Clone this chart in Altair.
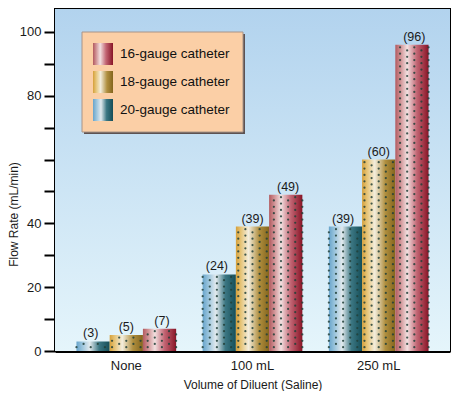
import altair as alt
import pandas as pd

# ---- data ----
diluent = ["None", "100 mL", "250 mL"]
series_names = ["20-gauge catheter", "18-gauge catheter", "16-gauge catheter"]
flow_20 = [3, 24, 39]
flow_18 = [5, 39, 60]
flow_16 = [7, 49, 96]
legend_order = ["16-gauge catheter", "18-gauge catheter", "20-gauge catheter"]

rows = []
for name, vals in zip(series_names, [flow_20, flow_18, flow_16]):
    for d, v in zip(diluent, vals):
        rows.append({"diluent": d, "series": name, "flow": v, "label": f"({v})"})
df = pd.DataFrame(rows)

FONT = "Liberation Sans"
W, H = 395, 342
N_COLS = 5  # texture columns per bar
dot_keys = [f"{s}|{c}" for s in series_names for c in range(N_COLS)]


def hgrad(stops):
    return alt.Gradient(gradient="linear", x1=0, y1=0, x2=1, y2=0,
                        stops=[alt.GradientStop(offset=o, color=c) for o, c in stops])


grads = {
    "20-gauge catheter": hgrad([(0, "#68a4cb"), (0.15, "#93c0da"), (0.4, "#e2eaee"),
                                (0.68, "#3c7783"), (1, "#154e58")]),
    "18-gauge catheter": hgrad([(0, "#d6a03a"), (0.15, "#e6c477"), (0.38, "#f3eddc"),
                                (0.7, "#b08f3f"), (1, "#84651d")]),
    "16-gauge catheter": hgrad([(0, "#b25a5f"), (0.15, "#cf8f92"), (0.36, "#f2e0e0"),
                                (0.65, "#c26573"), (1, "#881426")]),
}

bg_grad = alt.Gradient(gradient="linear", x1=0, y1=0, x2=0, y2=1,
                       stops=[alt.GradientStop(offset=0, color="#b2d3ee"),
                              alt.GradientStop(offset=1, color="#e5f5fb")])

x_enc = alt.X("diluent:N", sort=diluent,
              scale=alt.Scale(domain=diluent, paddingInner=0.21, paddingOuter=0.17),
              axis=alt.Axis(title="Volume of Diluent (Saline)", labelAngle=0, ticks=False,
                            tickSize=0, domainColor="black", domainWidth=3,
                            labelFontSize=13, labelColor="#1a1a1a", labelPadding=8,
                            labelFont=FONT, titleFont=FONT, titleFontSize=12,
                            titleFontWeight="normal", titleColor="#1a1a1a",
                            titlePadding=7, grid=False))
xoff = alt.XOffset("series:N", sort=series_names,
                   scale=alt.Scale(domain=series_names, paddingInner=0, paddingOuter=0))
xoff_keys = alt.XOffset("key:N", sort=dot_keys,
                        scale=alt.Scale(domain=dot_keys, paddingInner=0, paddingOuter=0))
y_axis = alt.Axis(title="Flow Rate (mL/min)", values=list(range(0, 101, 10)),
                  labelExpr="(datum.value % 20 == 0 && datum.value != 60) ? datum.label : ''",
                  grid=False, domainColor="black", domainWidth=2,
                  tickColor="black", tickWidth=2, tickSize=11,
                  labelPadding=3, labelFontSize=13, labelColor="#1a1a1a",
                  labelFont=FONT, titleFont=FONT, titleFontSize=12,
                  titleFontWeight="normal", titleColor="#1a1a1a",
                  titleX=-35, titleY=205, titleAngle=-90,
                  titleAlign="center", titleBaseline="bottom")
y_scale = alt.Scale(domain=[0, 107.2], nice=False, zero=True)
y_enc = alt.Y("flow:Q", scale=y_scale, axis=y_axis)

background = alt.Chart(alt.InlineData(values=[{"k": 1}])).mark_rect(fill=bg_grad).encode(
    x=alt.value(0), x2=alt.value("width"), y=alt.value(0), y2=alt.value("height"))

base = alt.Chart(df).encode(x=x_enc, xOffset=xoff, y=y_enc)

bar_layers = [
    base.transform_filter(alt.datum.series == name).mark_bar(fill=grads[name])
    for name in series_names
]

# dotted texture on the bars: staggered small dots, 5 columns per bar
dots = alt.Chart(df).transform_calculate(
    col=f"sequence(0, {N_COLS})"
).transform_flatten(["col"]).transform_calculate(
    key="datum.series + '|' + datum.col",
    dots="sequence(datum.col % 2 == 0 ? 1.2 : 2.2, datum.flow - 0.5, 2)"
).transform_flatten(["dots"]).mark_point(
    filled=True, size=5, color="#213f38", opacity=0.85
).encode(
    x=x_enc,
    xOffset=xoff_keys,
    y=alt.Y("dots:Q", scale=y_scale, axis=y_axis),
)

# value labels, centred on the middle texture column of each bar
labels = alt.Chart(df).transform_calculate(
    key=f"datum.series + '|{N_COLS // 2}'"
).mark_text(dy=-8, fontSize=12.5, font=FONT, color="#1a1a1a").encode(
    x=x_enc, xOffset=xoff_keys, y=y_enc, text="label:N")

# ---- legend box (drawn by hand so the swatches keep their gradients) ----
one = alt.InlineData(values=[{"k": 1}])
box_x, box_y, box_w, box_h = 27, 23, 161, 100
shadow = alt.Chart(one).mark_rect(fill="#5d5252").encode(
    x=alt.value(box_x + 2), x2=alt.value(box_x + box_w + 2),
    y=alt.value(box_y + 2), y2=alt.value(box_y + box_h + 2))
box = alt.Chart(one).mark_rect(fill="#fbcfa6", stroke="#a89488", strokeWidth=1).encode(
    x=alt.value(box_x), x2=alt.value(box_x + box_w),
    y=alt.value(box_y), y2=alt.value(box_y + box_h))

legend_layers = [shadow, box]
for i, name in enumerate(legend_order):
    cy = 45 + 28 * i
    legend_layers.append(
        alt.Chart(alt.InlineData(values=[{"s": name}])).mark_rect(fill=grads[name]).encode(
            x=alt.value(38), x2=alt.value(58), y=alt.value(cy - 11), y2=alt.value(cy + 11)))
    legend_layers.append(
        alt.Chart(alt.InlineData(values=[{"s": name}])).mark_text(
            align="left", baseline="middle", fontSize=13.5, font=FONT, color="#111111").encode(
            x=alt.value(65), y=alt.value(cy), text="s:N"))

chart = alt.layer(background, *bar_layers, dots, labels, *legend_layers).resolve_scale(
    xOffset="independent"
).properties(
    width=W, height=H,
    padding={"left": 47, "top": 1, "right": 1, "bottom": 40},
    autosize=alt.AutoSizeParams(type="none"),
    background="white",
).configure_view(stroke="black", strokeWidth=2).configure_axis(labelFont=FONT, titleFont=FONT)

chart.save("out.html", embed_options={"renderer": "svg", "actions": False})
